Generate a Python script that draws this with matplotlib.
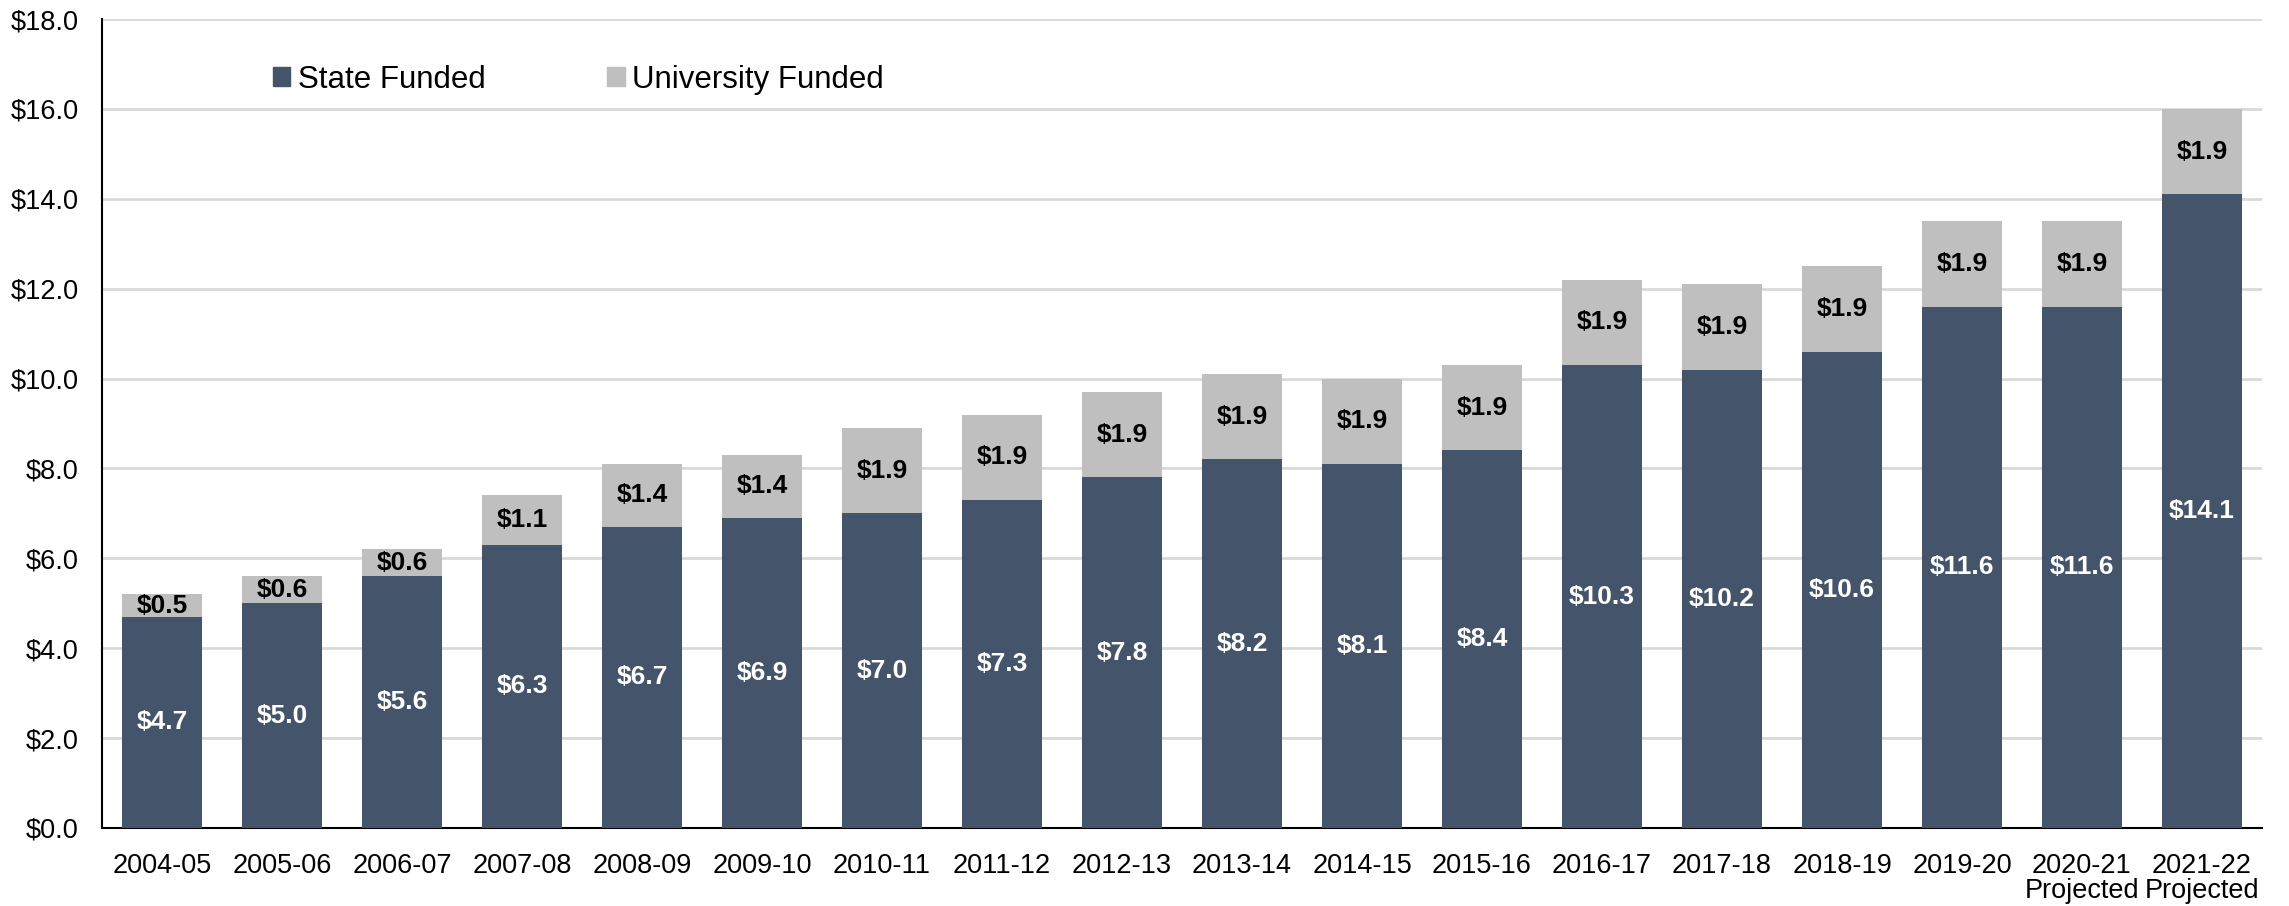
import numpy as np
import matplotlib.pyplot as plt
from matplotlib.patches import Patch

plt.rcParams['font.family'] = ['Liberation Sans', 'DejaVu Sans']

years = ['2004-05', '2005-06', '2006-07', '2007-08', '2008-09', '2009-10',
         '2010-11', '2011-12', '2012-13', '2013-14', '2014-15', '2015-16',
         '2016-17', '2017-18', '2018-19', '2019-20', '2020-21\nProjected',
         '2021-22\nProjected']
state_funded = [4.7, 5.0, 5.6, 6.3, 6.7, 6.9, 7.0, 7.3, 7.8, 8.2, 8.1, 8.4,
                10.3, 10.2, 10.6, 11.6, 11.6, 14.1]
univ_funded = [0.5, 0.6, 0.6, 1.1, 1.4, 1.4, 1.9, 1.9, 1.9, 1.9, 1.9, 1.9,
               1.9, 1.9, 1.9, 1.9, 1.9, 1.9]
y_ticks = [0, 2, 4, 6, 8, 10, 12, 14, 16, 18]

STATE_COLOR = '#44546A'
UNIV_COLOR = '#BFBFBF'

fig = plt.figure(figsize=(22.89, 9.06), dpi=100)
ax = fig.add_axes([0.0446, 0.0861, 0.9436, 0.8929])

x = np.arange(len(years))
state = np.array(state_funded)
univ = np.array(univ_funded)
w = 0.667

ax.bar(x, state, width=w, color=STATE_COLOR, zorder=3)
ax.bar(x, univ, width=w, bottom=state, color=UNIV_COLOR, zorder=3)

for xi, s, u in zip(x, state, univ):
    ax.text(xi, s / 2, f'${s:.1f}', ha='center', va='center', color='white',
            fontsize=19, fontweight='bold', zorder=4)
    ax.text(xi, s + u / 2, f'${u:.1f}', ha='center', va='center', color='black',
            fontsize=19, fontweight='bold', zorder=4)

ax.set_xlim(-0.5, len(years) - 0.5)
ax.set_ylim(0, 18)
ax.set_yticks(y_ticks)
ax.set_yticklabels([f'${v:.1f}' for v in y_ticks])
ax.set_xticks(x)
ax.set_xticklabels(years, linespacing=0.95)
ax.tick_params(axis='both', length=0, labelsize=19.5)
ax.tick_params(axis='x', pad=18)
ax.tick_params(axis='y', pad=17)

ax.yaxis.grid(True, color='#D9D9D9', linewidth=2, zorder=0)
ax.set_axisbelow(True)
for side in ['top', 'right']:
    ax.spines[side].set_visible(False)
for side in ['left', 'bottom']:
    ax.spines[side].set_linewidth(1.5)
    ax.spines[side].set_color('black')

handles = [Patch(color=STATE_COLOR, label='State Funded'),
           Patch(color=UNIV_COLOR, label='University Funded')]
ax.legend(handles=handles, loc='center left', bbox_to_anchor=(0.066, 0.925),
          ncol=2, frameon=False, fontsize=22.5, handlelength=0.55,
          handleheight=0.55, handletextpad=0.25, columnspacing=3.9)

fig.savefig('out.png', dpi=100)
